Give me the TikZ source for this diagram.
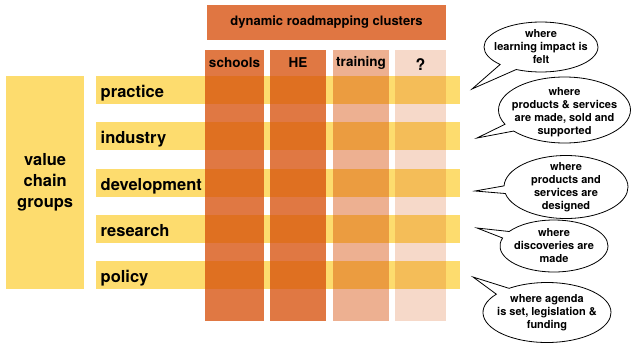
\documentclass[tikz,border=0pt]{standalone}
\usepackage{fontspec}
\setmainfont{TeX Gyre Heros}
\usetikzlibrary{shapes.callouts}
\definecolor{rowyellow}{RGB}{253,220,110}
\definecolor{clusterorange}{RGB}{215,80,10}
\definecolor{headorange}{RGB}{224,118,66}
\begin{document}
\begin{tikzpicture}[x=1pt,y=-1pt,
  rowbox/.style={fill=rowyellow, inner sep=0pt, anchor=north west, minimum height=28pt, minimum width=364pt},
  rowlabel/.style={font=\bfseries\fontsize{16.5}{20}\selectfont, anchor=base west, inner sep=0pt},
  colbox/.style={fill=clusterorange, inner sep=0pt, anchor=north west, minimum height=271pt},
  collabel/.style={font=\bfseries\fontsize{13.5}{16}\selectfont, inner sep=0pt},
  bubble/.style={ellipse callout, draw=black, line width=0.8pt, fill=white, inner sep=0pt},
  bubbletext/.style={font=\bfseries\fontsize{11}{13}\selectfont, align=center, inner sep=0pt}]
\useasboundingbox (0,0) rectangle (631,343);

% value chain group box
\node[fill=rowyellow, minimum width=78pt, minimum height=213pt, anchor=north west, inner sep=0pt,
      align=center, font=\bfseries\fontsize{16.5}{21}\selectfont] (vcg) at (6,76) {value\\chain\\groups};

% rows
\node[rowbox] (r1) at (96,76) {};
\node[rowbox] (r2) at (96,122) {};
\node[rowbox] (r3) at (96,169) {};
\node[rowbox] (r4) at (96,215) {};
\node[rowbox] (r5) at (96,261) {};
\node[rowlabel] (l1) at ([xshift=4.5pt,yshift=-7.5pt]r1.west) {practice};
\node[rowlabel] (l2) at ([xshift=4.5pt,yshift=-7.5pt]r2.west) {industry};
\node[rowlabel] (l3) at ([xshift=4.5pt,yshift=-7.5pt]r3.west) {development};
\node[rowlabel] (l4) at ([xshift=4.5pt,yshift=-7.5pt]r4.west) {research};
\node[rowlabel] (l5) at ([xshift=4.5pt,yshift=-7.5pt]r5.west) {policy};

% columns
\node[colbox, fill opacity=0.77, minimum width=59pt] (c1) at (205,50) {};
\node[colbox, fill opacity=0.77, minimum width=56pt] (c2) at (270,50) {};
\node[colbox, fill opacity=0.45, minimum width=56pt] (c3) at (333,50) {};
\node[colbox, fill opacity=0.22, minimum width=51pt] (c4) at (395,50) {};
\node[collabel] (h1) at (234.5,63) {schools};
\node[collabel] (h2) at (298,63) {HE};
\node[collabel] (h3) at (361,63) {training};
\node[collabel, font=\bfseries\fontsize{16}{18}\selectfont] (h4) at (420.5,65) {?};

% header
\node[fill=headorange, minimum width=239pt, minimum height=35pt, inner sep=0pt,
      font=\bfseries\fontsize{13}{15}\selectfont] (hdr) at (326.5,22.5) {dynamic roadmapping clusters};

% callouts
\coordinate (p1) at (472,89);
\coordinate (p2) at (477,138);
\coordinate (p3) at (475,191);
\coordinate (p4) at (477,228);
\coordinate (p5) at (473,277);
\node[bubble, minimum width=114pt, minimum height=50pt, callout absolute pointer={(p1)}, callout pointer arc=20] (b1) at (541,47) {};
\node[bubble, minimum width=132pt, minimum height=66pt, callout absolute pointer={(p2)}, callout pointer arc=14] (b2) at (564.5,110) {};
\node[bubble, minimum width=124pt, minimum height=63pt, callout absolute pointer={(p3)}, callout pointer arc=14] (b3) at (566,187) {};
\node[bubble, minimum width=108pt, minimum height=52pt, callout absolute pointer={(p4)}, callout pointer arc=16] (b4) at (554,246) {};
\node[bubble, minimum width=128pt, minimum height=60pt, callout absolute pointer={(p5)}, callout pointer arc=16] (b5) at (547,312.5) {};
\node[bubbletext] (t1) at (b1.center) {where\\learning impact is\\felt};
\node[bubbletext] (t2) at ([yshift=-2pt]b2.center) {where\\products \& services\\are made, sold and\\supported};
\node[bubbletext] (t3) at (b3.center) {where\\products and\\services are\\designed};
\node[bubbletext] (t4) at (b4.center) {where\\discoveries are\\made};
\node[bubbletext] (t5) at (b5.center) {where agenda\\is set, legislation \&\\funding};
\end{tikzpicture}
\end{document}
